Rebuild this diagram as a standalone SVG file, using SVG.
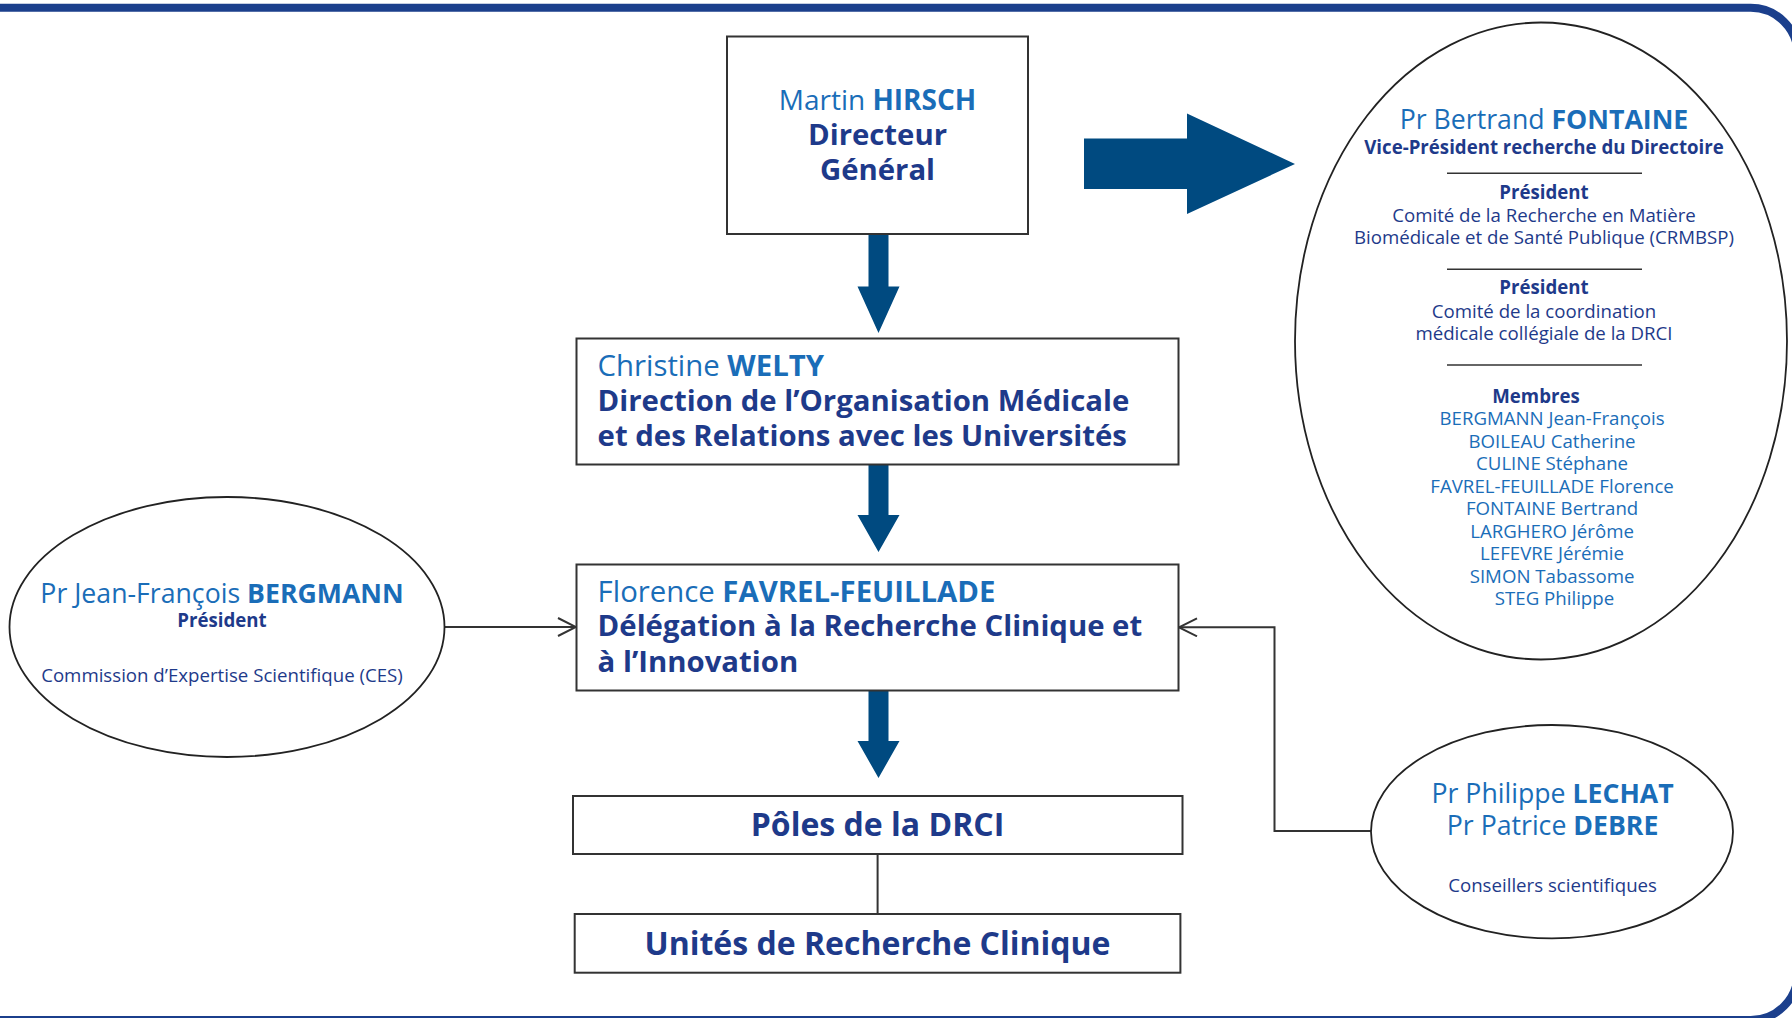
<svg xmlns="http://www.w3.org/2000/svg" width="1792" height="1018" viewBox="0 0 1792 1018">
<defs>
<style>
text{font-family:"Open Sans","Noto Sans","Liberation Sans",sans-serif;}
.box{fill:#fff;stroke:#333;stroke-width:2;}
.ell{fill:#fff;stroke:#222;stroke-width:1.8;}
.blk{fill:#004a80;}
.con{fill:none;stroke:#333;stroke-width:2;}
.sep{stroke:#333;stroke-width:1.6;}
.nm{fill:#1a6db8;}
.b{font-weight:700;}
.dk{fill:#1e3a8a;}
.mid{text-anchor:middle;}
</style>
<marker id="open" viewBox="0 0 20 20" refX="19" refY="10" markerWidth="20" markerHeight="20" markerUnits="userSpaceOnUse" orient="auto">
<path d="M1,1 L19,10 L1,19" fill="none" stroke="#333" stroke-width="2"/>
</marker>
</defs>
<rect x="-100" y="7.8" width="1897.7" height="1012.2" rx="47" ry="47" fill="#fff" stroke="#1b3f8c" stroke-width="8"/>

<g id="connectors">
<polygon class="blk" points="1084,138.5 1187,138.5 1187,113.5 1295,164 1187,214 1187,189 1084,189"/>
<polygon class="blk" points="868.5,234 888.5,234 888.5,286.5 899.5,286.5 878.5,333 857.5,286.5 868.5,286.5"/>
<polygon class="blk" points="868.5,464.5 888.5,464.5 888.5,515 899.5,515 878.5,552 857.5,515 868.5,515"/>
<polygon class="blk" points="868.5,691 888.5,691 888.5,741 899.5,741 878.5,778 857.5,741 868.5,741"/>
<line class="con" x1="445" y1="627" x2="576" y2="627" marker-end="url(#open)"/>
<path class="con" d="M1371,831 H1274.5 V627.3 H1179" marker-end="url(#open)"/>
<line class="con" x1="877.6" y1="854" x2="877.6" y2="914"/>
</g>

<g id="n-hirsch">
<rect class="box" x="727" y="36.5" width="301" height="197.5"/>
<text class="mid" x="877.5" y="110" font-size="28"><tspan class="nm">Martin </tspan><tspan class="nm b">HIRSCH</tspan></text>
<text class="mid b dk" x="877.5" y="145" font-size="29.33">Directeur</text>
<text class="mid b dk" x="877.5" y="180" font-size="29.33">Général</text>
</g>

<g id="n-welty">
<rect class="box" x="576.5" y="338.5" width="602" height="126"/>
<text x="597.6" y="376" font-size="29.33"><tspan class="nm">Christine </tspan><tspan class="nm b">WELTY</tspan></text>
<text class="b dk" x="597.6" y="410.7" font-size="29.33">Direction de l’Organisation Médicale</text>
<text class="b dk" x="597.6" y="446" font-size="29.33">et des Relations avec les Universités</text>
</g>

<g id="n-favrel">
<rect class="box" x="576.5" y="564.5" width="602" height="126"/>
<text x="597.6" y="601.7" font-size="29.33"><tspan class="nm">Florence </tspan><tspan class="nm b">FAVREL-FEUILLADE</tspan></text>
<text class="b dk" x="597.6" y="636" font-size="29.33">Délégation à la Recherche Clinique et</text>
<text class="b dk" x="597.6" y="671.7" font-size="29.33">à l’Innovation</text>
</g>

<g id="n-poles">
<rect class="box" x="573" y="796" width="609.5" height="58"/>
<text class="mid b dk" x="877.5" y="835.7" font-size="32">Pôles de la DRCI</text>
</g>

<g id="n-unites">
<rect class="box" x="574.7" y="914" width="605.7" height="58.7"/>
<text class="mid b dk" x="877.5" y="955" font-size="32">Unités de Recherche Clinique</text>
</g>

<g id="n-bergmann">
<ellipse class="ell" cx="227" cy="627" rx="217.5" ry="130"/>
<text class="mid" x="222" y="603.3" font-size="26.67"><tspan class="nm">Pr Jean-François </tspan><tspan class="nm b">BERGMANN</tspan></text>
<text class="mid b dk" x="222" y="626.7" font-size="18.67">Président</text>
<text class="mid dk" x="222" y="681.7" font-size="18.67">Commission d’Expertise Scientifique (CES)</text>
</g>

<g id="n-fontaine">
<ellipse class="ell" cx="1541" cy="341" rx="246" ry="318.5"/>
<text class="mid" x="1544" y="129.3" font-size="26.67"><tspan class="nm">Pr Bertrand </tspan><tspan class="nm b">FONTAINE</tspan></text>
<text class="mid b dk" x="1544" y="154" font-size="18.67">Vice-Président recherche du Directoire</text>
<line class="sep" x1="1447" y1="173.3" x2="1642" y2="173.3"/>
<text class="mid b dk" x="1544" y="199.3" font-size="18.67">Président</text>
<text class="mid dk" x="1544" y="221.7" font-size="18.67">Comité de la Recherche en Matière</text>
<text class="mid dk" x="1544" y="244.3" font-size="18.67">Biomédicale et de Santé Publique (CRMBSP)</text>
<line class="sep" x1="1447" y1="269.3" x2="1642" y2="269.3"/>
<text class="mid b dk" x="1544" y="294.3" font-size="18.67">Président</text>
<text class="mid dk" x="1544" y="318.3" font-size="18.67">Comité de la coordination</text>
<text class="mid dk" x="1544" y="340" font-size="18.67">médicale collégiale de la DRCI</text>
<line class="sep" x1="1447" y1="365" x2="1642" y2="365"/>
<text class="mid b dk" x="1536" y="402.7" font-size="18.67">Membres</text>
<text class="mid nm" font-size="18.67">
<tspan x="1554.5" y="425">BERGMANN Jean-François</tspan>
<tspan x="1554.5" y="447.5">BOILEAU Catherine</tspan>
<tspan x="1554.5" y="470">CULINE Stéphane</tspan>
<tspan x="1554.5" y="492.5">FAVREL-FEUILLADE Florence</tspan>
<tspan x="1554.5" y="515">FONTAINE Bertrand</tspan>
<tspan x="1554.5" y="537.5">LARGHERO Jérôme</tspan>
<tspan x="1554.5" y="560">LEFEVRE Jérémie</tspan>
<tspan x="1554.5" y="582.5">SIMON Tabassome</tspan>
<tspan x="1554.5" y="605">STEG Philippe</tspan>
</text>
</g>

<g id="n-lechat">
<ellipse class="ell" cx="1552" cy="831.7" rx="181" ry="106.7"/>
<text class="mid" x="1552.6" y="802.7" font-size="26.67"><tspan class="nm">Pr Philippe </tspan><tspan class="nm b">LECHAT</tspan></text>
<text class="mid" x="1552.6" y="835" font-size="26.67"><tspan class="nm">Pr Patrice </tspan><tspan class="nm b">DEBRE</tspan></text>
<text class="mid dk" x="1552.6" y="891.7" font-size="18.67">Conseillers scientifiques</text>
</g>
</svg>
